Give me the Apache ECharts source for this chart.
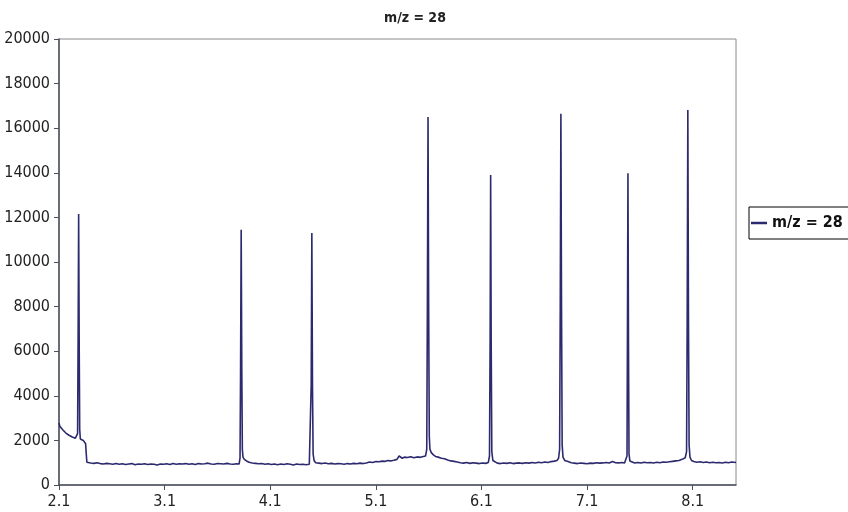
<!DOCTYPE html>
<html>
<head>
<meta charset="utf-8">
<script src="https://cdn.jsdelivr.net/npm/echarts@6/dist/echarts.min.js"></script>
<style>html,body{margin:0;padding:0;background:#fff}#c{width:848px;height:512px}</style>
</head>
<body>
<div id="c"></div>
<script>
var titleText = 'm/z = 28';
var seriesName = 'm/z = 28';
var xTickLabels = [2.1, 3.1, 4.1, 5.1, 6.1, 7.1, 8.1];
var yTicks = [0, 2000, 4000, 6000, 8000, 10000, 12000, 14000, 16000, 18000, 20000];

var times = [
2.100,2.108,2.120,2.135,2.150,2.165,2.180,2.195,2.210,2.225,2.240,2.255,2.268,2.276,2.281,2.286,2.291,2.296,2.302,2.315,2.330,2.345,2.352,2.358,2.364,2.375,
2.400,2.430,2.460,2.490,2.520,2.550,2.580,2.610,2.640,2.670,2.700,2.730,2.760,2.790,2.820,2.850,2.880,2.910,2.940,2.970,3.000,3.030,3.060,3.090,3.120,3.150,3.180,3.210,3.240,3.270,3.300,3.330,3.360,3.390,3.420,3.450,3.480,3.510,3.540,3.570,3.600,3.630,3.660,3.690,3.720,3.750,3.780,3.805,
3.814,3.819,3.825,3.831,3.836,3.842,3.855,3.875,3.900,3.930,3.960,3.990,4.020,4.050,4.080,4.110,4.140,4.170,4.200,4.230,4.260,4.290,4.320,4.350,4.380,4.410,4.440,4.470,4.482,
4.488,4.494,4.500,4.506,4.515,4.530,4.560,4.590,4.620,4.650,4.680,4.710,4.740,4.770,4.800,4.830,4.860,4.890,4.920,4.950,4.980,5.010,5.040,5.070,5.100,5.130,5.160,5.190,5.210,5.225,5.240,5.270,5.300,5.320,5.335,5.350,5.370,5.400,5.430,5.460,5.490,5.520,5.550,5.570,
5.582,5.588,5.594,5.600,5.606,5.612,5.625,5.645,5.665,5.690,5.720,5.750,5.780,5.810,5.840,5.870,5.900,5.930,5.960,5.990,6.020,6.050,6.080,6.110,6.140,6.165,
6.176,6.182,6.187,6.192,6.198,6.208,6.225,6.250,6.280,6.310,6.340,6.370,6.400,6.430,6.460,6.490,6.520,6.550,6.580,6.610,6.640,6.670,6.700,6.730,6.760,6.790,6.815,6.830,
6.840,6.846,6.852,6.858,6.864,6.872,6.888,6.920,6.950,6.980,7.010,7.040,7.070,7.100,7.130,7.160,7.190,7.220,7.250,7.280,7.310,7.340,7.370,7.400,7.430,7.455,7.472,
7.478,7.482,7.487,7.492,7.497,7.505,7.520,7.550,7.580,7.610,7.640,7.670,7.700,7.730,7.760,7.790,7.820,7.850,7.880,7.910,7.940,7.970,8.000,8.029,
8.042,8.048,8.054,8.060,8.066,8.074,8.089,8.110,8.140,8.170,8.200,8.230,8.260,8.290,8.320,8.350,8.380,8.410,8.440,8.470,8.510
];
var signal = [
2780,2640,2590,2480,2420,2330,2290,2230,2190,2150,2110,2100,2110,2300,6500,12150,6500,2500,2060,2040,2000,1990,1850,1400,1020,960,
990,970,1000,960,940,970,950,930,960,930,950,920,940,960,910,940,930,950,920,940,930,900,940,930,950,920,960,930,950,940,960,930,950,920,960,940,950,980,940,930,960,950,940,970,940,930,950,940,
1200,5000,11450,5000,1600,1250,1150,1080,1020,990,970,950,960,930,950,920,940,910,940,920,950,930,900,940,920,930,910,930,950,
4500,11300,4500,1400,1100,1000,980,960,990,950,970,940,960,950,930,960,940,970,950,980,960,990,1030,1010,1050,1040,1070,1060,1100,1160,1080,1110,1150,1300,1340,1200,1250,1230,1270,1220,1260,1240,1280,1300,
1600,8000,16500,8000,2200,1600,1450,1350,1280,1250,1200,1180,1120,1080,1060,1030,1000,980,1010,970,1000,980,960,990,970,1010,
1300,6500,13900,6500,1500,1100,1020,980,960,990,970,1000,960,980,990,970,1000,980,1010,990,1020,1000,1030,1010,1050,1070,1100,1200,
1600,8000,16650,8000,1800,1250,1100,1050,1000,980,960,990,970,950,980,970,1000,980,990,1010,990,1050,1000,990,1010,990,1000,
1300,6500,13980,6500,1400,1080,1010,990,1010,990,1020,1000,1010,990,1020,1000,1030,1020,1040,1060,1080,1100,1150,1220,
1500,7500,16820,7500,1800,1250,1100,1050,1020,1040,1010,1030,1000,1020,1000,1010,990,1020,1000,1030,1010
];

var FONT = "'Liberation Sans Narrow', 'DejaVu Sans Condensed', 'Arial Narrow', sans-serif";
var points = times.map(function (t, i) { return [t, signal[i]]; });

var chart = echarts.init(document.getElementById('c'), null, {renderer: 'canvas'});
chart.setOption({
  animation: false,
  backgroundColor: '#ffffff',
  title: {
    text: titleText,
    left: 379, top: 6,
    textStyle: {fontFamily: FONT, fontSize: 14, fontWeight: 'bold', color: '#222'}
  },
  legend: {
    data: [seriesName],
    left: 749, top: 207,
    orient: 'vertical',
    padding: [8, 40, 8, 2],
    borderColor: '#000', borderWidth: 1,
    icon: 'rect', itemWidth: 16, itemHeight: 2.5,
    textStyle: {fontFamily: FONT, fontSize: 16, fontWeight: 'bold', color: '#111'}
  },
  grid: {left: 59, right: 112, top: 39, bottom: 27, show: true, borderColor: '#8a8a8a', borderWidth: 1, containLabel: false},
  xAxis: {
    type: 'value', min: 2.1, max: 8.51,
    axisLine: {lineStyle: {color: '#4a4f5c', width: 1.5}},
    axisTick: {show: true, inside: false, length: 5, customValues: xTickLabels, lineStyle: {color: '#4a4f5c'}},
    axisLabel: {customValues: xTickLabels, margin: 9, fontFamily: FONT, fontSize: 16, color: '#222',
      formatter: function (v) { return v.toFixed(1); }},
    splitLine: {show: false}
  },
  yAxis: {
    type: 'value', min: 0, max: 20000, interval: 2000,
    axisLine: {show: true, lineStyle: {color: '#4a4f5c', width: 1.5}},
    axisTick: {show: true, inside: false, length: 5, lineStyle: {color: '#4a4f5c'}},
    axisLabel: {margin: 9, fontFamily: FONT, fontSize: 16, color: '#222',
      formatter: function (v) { return String(v); }},
    splitLine: {show: false}
  },
  series: [{
    name: seriesName,
    type: 'line',
    data: points,
    showSymbol: false, symbol: 'none',
    sampling: null,
    lineStyle: {color: '#2c2a6e', width: 1.6},
    itemStyle: {color: '#2c2a6e'}
  }]
});
</script>
</body>
</html>
